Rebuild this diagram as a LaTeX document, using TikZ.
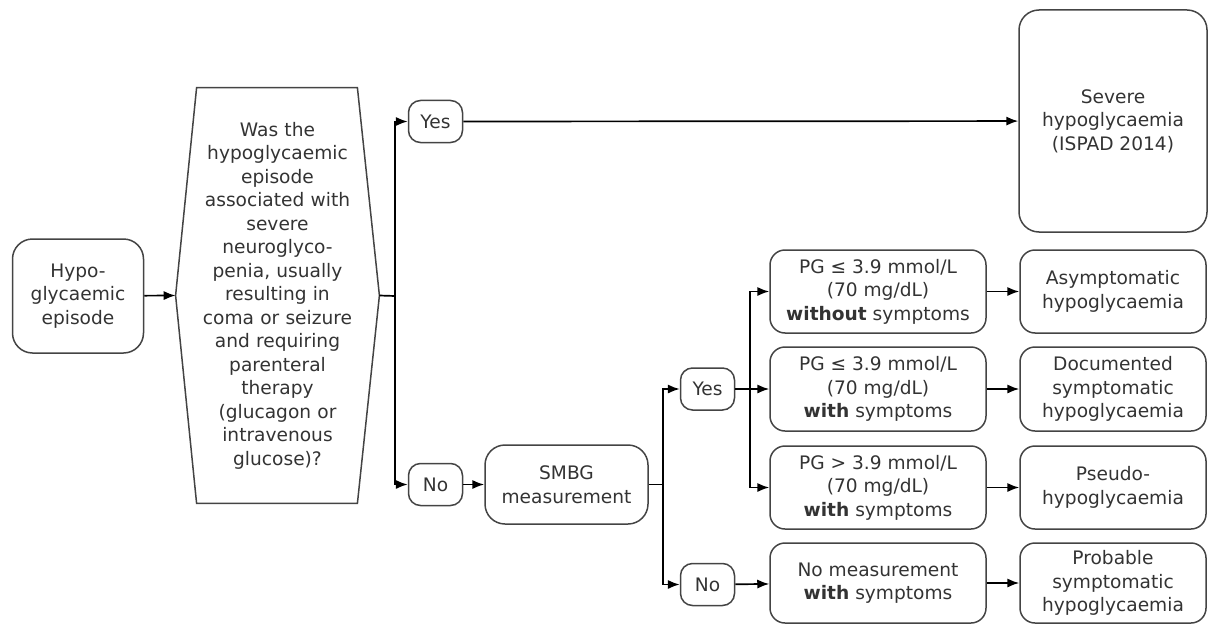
\documentclass[tikz,border=0pt]{standalone}
\usepackage{fontspec}
\setmainfont{DejaVu Sans}
\usetikzlibrary{arrows.meta,calc}
\definecolor{txt}{HTML}{333333}
\definecolor{edge}{HTML}{444444}
\begin{document}
\begin{tikzpicture}[x=0.5pt,y=-0.5pt,
  every node/.style={font=\fontsize{9.3}{11.75}\selectfont, text=txt, align=center, inner sep=0pt},
  box/.style={draw=edge, line width=0.75pt, rounded corners=#1},
  box/.default=7.5pt,
  pill/.style={draw=edge, line width=0.75pt, rounded corners=6pt, minimum width=27pt, minimum height=21pt},
  arr/.style={draw=black, line width=0.85pt, -{Latex[length=6pt,width=4.6pt]}},
  ln/.style={draw=black, line width=0.85pt}]
\useasboundingbox (0,0) rectangle (1208,626);

% left
\node[box=10pt, minimum width=65.5pt, minimum height=57pt] (hypo) at (78,296) {Hypo-\\glycaemic\\episode};
\node[minimum width=101.5pt, minimum height=207.5pt, text width=82pt] (hex) at (277.5,295.5)
  {Was the\\hypoglycaemic\\episode\\associated with\\severe\\neuroglyco-\\penia, usually\\resulting in\\coma or seizure\\and requiring\\parenteral\\therapy\\(glucagon or\\intravenous\\glucose)?};
\draw[draw=edge, line width=0.75pt] ($(hex.north west)+(21,0)$) -- ($(hex.north east)+(-22,0)$) -- (hex.east)
  -- ($(hex.south east)+(-22,0)$) -- ($(hex.south west)+(21,0)$) -- (hex.west) -- cycle;

\node[pill] (yes1) at (435.5,121.5) {Yes};
\node[pill] (no1) at (435.5,484.5) {No};
\node[box=10pt, minimum width=94pt, minimum height=111pt] (severe) at (1113,121) {Severe\\hypoglycaemia\\(ISPAD 2014)};
\node[box=10pt, minimum width=81.5pt, minimum height=39.5pt] (smbg) at (566.5,484.5) {SMBG\\measurement};

\node[pill] (yes2) at (707.5,389) {Yes};
\node[pill] (no2) at (707.5,584.5) {No};

\node[box, minimum width=108pt, minimum height=41.5pt] (pg1) at (878,291.5) {PG ≤ 3.9 mmol/L\\(70 mg/dL)\\\textbf{without} symptoms};
\node[box, minimum width=108pt, minimum height=42pt] (pg2) at (878,389) {PG ≤ 3.9 mmol/L\\(70 mg/dL)\\\textbf{with} symptoms};
\node[box, minimum width=108pt, minimum height=41.5pt] (pg3) at (878,487.5) {PG > 3.9 mmol/L\\(70 mg/dL)\\\textbf{with} symptoms};
\node[box, minimum width=108pt, minimum height=40pt] (pg4) at (878,583) {No measurement\\\textbf{with} symptoms};

\node[box, minimum width=93pt, minimum height=41.5pt] (r1) at (1113,291.5) {Asymptomatic\\hypoglycaemia};
\node[box, minimum width=93pt, minimum height=42pt] (r2) at (1113,389) {Documented\\symptomatic\\hypoglycaemia};
\node[box, minimum width=93pt, minimum height=41.5pt] (r3) at (1113,487.5) {Pseudo-\\hypoglycaemia};
\node[box, minimum width=93pt, minimum height=40pt] (r4) at (1113,583) {Probable\\symptomatic\\hypoglycaemia};

\coordinate (j1) at (395,296);
\coordinate (j2) at (663,484.5);
\coordinate (j3) at (750,389);

\draw[arr] (hypo) -- (hex.west);
\draw[ln] (hex.east) -- (j1);
\draw[arr] (j1) |- (yes1);
\draw[arr] (j1) |- (no1);
\draw[arr] (yes1) -- (severe);
\draw[arr] (no1) -- (smbg);
\draw[ln] (smbg) -- (j2);
\draw[arr] (j2) |- (yes2);
\draw[arr] (j2) |- (no2);
\draw[arr] (yes2) -- (pg2);
\draw[arr] (j3) |- (pg1);
\draw[arr] (j3) |- (pg3);
\draw[arr] (no2) -- (pg4);
\draw[arr] (pg1) -- (r1);
\draw[arr] (pg2) -- (r2);
\draw[arr] (pg3) -- (r3);
\draw[arr] (pg4) -- (r4);
\end{tikzpicture}
\end{document}
